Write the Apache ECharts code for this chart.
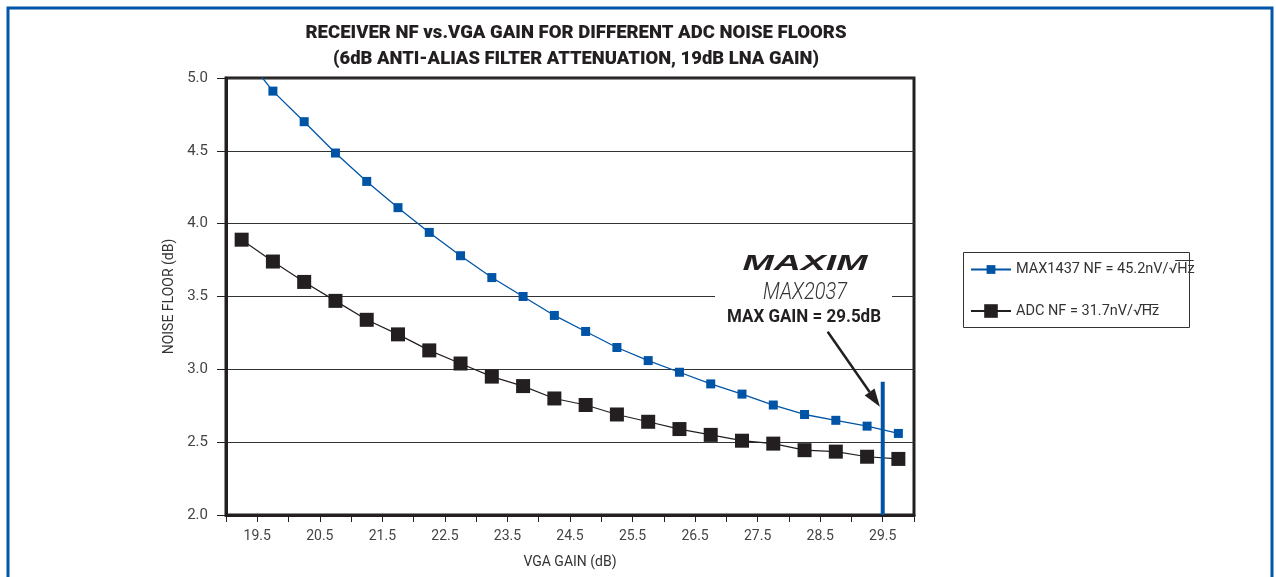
<!DOCTYPE html>
<html>
<head>
<meta charset="utf-8">
<script src="https://cdn.jsdelivr.net/npm/echarts@6/dist/echarts.min.js"></script>
<style>
  html, body { margin: 0; padding: 0; background: #fff; }
  #chart { width: 1276px; height: 577px; }
</style>
</head>
<body>
<div id="chart"></div>
<script>
// VGA gain sweep (dB) for each curve
const gainMax1437 = [19.25, 19.75, 20.25, 20.75, 21.25, 21.75, 22.25, 22.75, 23.25, 23.75, 24.25,
                     24.75, 25.25, 25.75, 26.25, 26.75, 27.25, 27.75, 28.25, 28.75, 29.25, 29.75];
const nfMax1437   = [5.18, 4.91, 4.70, 4.485, 4.29, 4.11, 3.94, 3.78, 3.63, 3.50, 3.37,
                     3.26, 3.15, 3.06, 2.98, 2.90, 2.83, 2.755, 2.69, 2.65, 2.61, 2.56];
const gainAdc     = [19.25, 19.75, 20.25, 20.75, 21.25, 21.75, 22.25, 22.75, 23.25, 23.75, 24.25,
                     24.75, 25.25, 25.75, 26.25, 26.75, 27.25, 27.75, 28.25, 28.75, 29.25, 29.75];
const nfAdc       = [3.89, 3.74, 3.60, 3.47, 3.34, 3.24, 3.13, 3.04, 2.95, 2.885, 2.80,
                     2.755, 2.69, 2.64, 2.59, 2.55, 2.51, 2.49, 2.445, 2.435, 2.40, 2.385];
// MAX2037 maximum gain marker (gain, NF span)
const maxGainX    = [29.5, 29.5];
const maxGainY    = [2.0, 2.915];
// Arrow from the annotation text down to the max-gain marker (data coords)
const arrowFrom   = [28.62, 3.258];
const arrowTo     = [29.455, 2.743];

const seriesNames = ['MAX1437 NF = 45.2nV/\u221AHz', 'ADC NF = 31.7nV/\u221AHz'];
const titleLines  = ['RECEIVER NF vs.VGA GAIN FOR DIFFERENT ADC NOISE FLOORS',
                     '(6dB ANTI-ALIAS FILTER ATTENUATION, 19dB LNA GAIN)'];

const BLUE = '#0054a6';
const INK = '#231f20';
const FONT = 'Roboto, "Liberation Sans", sans-serif';

const zip = (xs, ys) => xs.map((x, i) => [x, ys[i]]);

// horizontal scale needed so a string fits a given width
const ctx = document.createElement('canvas').getContext('2d');
function fitScale(text, font, width) {
  ctx.font = font;
  return width / ctx.measureText(text).width;
}
function textWidth(text, font) {
  ctx.font = font;
  return ctx.measureText(text).width;
}

const chart = echarts.init(document.getElementById('chart'), null, { renderer: 'canvas' });

const titleFont = '900 18px ' + FONT;
const logoFont = 'italic 900 22px "Liberation Sans", Arial, sans-serif';
const partFont = 'italic 300 23px ' + FONT;
const gainFont = 'bold 19px ' + FONT;
const legendFontSize = 14.5;
const legendFont = legendFontSize + 'px ' + FONT;

const legendLeft = 970, legendIconW = 40;
const legendRows = [268, 312];

function overline(name, rowY) {
  const prefix = name.slice(0, name.length - 2);
  const x0 = legendLeft + legendIconW + 5 + textWidth(prefix, legendFont);
  const w = textWidth('Hz', legendFont);
  return {
    type: 'line', z: 20, silent: true,
    shape: { x1: x0 - 1, y1: rowY - 7.5, x2: x0 + w, y2: rowY - 7.5 },
    style: { stroke: '#333', lineWidth: 1 }
  };
}

const option = {
  animation: false,
  backgroundColor: '#fff',
  grid: {
    left: 226, top: 78, right: 362, bottom: 62,
    show: true, borderColor: INK, borderWidth: 3, backgroundColor: 'transparent'
  },
  xAxis: {
    type: 'value', min: 19, max: 30, interval: 0.5,
    name: 'VGA GAIN (dB)', nameLocation: 'middle', nameGap: 40,
    nameTextStyle: { fontFamily: FONT, fontSize: 14, color: '#333' },
    axisLine: { show: true, lineStyle: { color: INK, width: 3 } },
    axisTick: { show: true, length: 7, lineStyle: { color: INK, width: 1 } },
    axisLabel: {
      margin: 14, fontFamily: FONT, fontSize: 14, color: '#444',
      formatter: v => (Math.abs(v % 1 - 0.5) < 1e-6 ? v.toFixed(1) : '')
    },
    splitLine: { show: false }
  },
  yAxis: {
    type: 'value', min: 2, max: 5, interval: 0.5,
    name: 'NOISE FLOOR (dB)', nameLocation: 'middle', nameGap: 41,
    nameTextStyle: { fontFamily: FONT, fontSize: 14, color: '#333' },
    axisLine: { show: true, lineStyle: { color: INK, width: 3 } },
    axisTick: { show: true, length: 9, lineStyle: { color: INK, width: 1 } },
    axisLabel: { margin: 18, fontFamily: FONT, fontSize: 15, color: '#444', formatter: v => v.toFixed(1) },
    splitLine: { show: true, lineStyle: { color: '#333', width: 1 } }
  },
  legend: [
    {
      data: [seriesNames[0]], left: legendLeft, top: legendRows[0] - 6,
      itemWidth: legendIconW, itemHeight: 11, padding: 0,
      textStyle: { fontFamily: FONT, fontSize: legendFontSize, color: '#333' }
    },
    {
      data: [seriesNames[1]], left: legendLeft, top: legendRows[1] - 8.5,
      itemWidth: legendIconW, itemHeight: 17, padding: 0,
      textStyle: { fontFamily: FONT, fontSize: legendFontSize, color: '#333' }
    }
  ],
  series: [
    {
      name: seriesNames[0], type: 'line', data: zip(gainMax1437, nfMax1437),
      symbol: 'rect', symbolSize: 9, clip: true, z: 4,
      itemStyle: { color: BLUE },
      lineStyle: { color: BLUE, width: 1.3 }
    },
    {
      name: seriesNames[1], type: 'line', data: zip(gainAdc, nfAdc),
      symbol: 'rect', symbolSize: 14, clip: true, z: 3,
      itemStyle: { color: INK },
      lineStyle: { color: INK, width: 1.2 }
    },
    {
      name: 'max gain', type: 'line', data: zip(maxGainX, maxGainY),
      symbol: 'none', silent: true, z: 5,
      lineStyle: { color: BLUE, width: 4 }
    }
  ],
  graphic: []
};

chart.setOption(option);

// arrow endpoints in pixels
const p0 = chart.convertToPixel({ gridIndex: 0 }, arrowFrom);
const p1 = chart.convertToPixel({ gridIndex: 0 }, arrowTo);
const ang = Math.atan2(p1[1] - p0[1], p1[0] - p0[0]);
const headLen = 18, headHalf = 6;
const bx = p1[0] - headLen * Math.cos(ang), by = p1[1] - headLen * Math.sin(ang);
const nx = -Math.sin(ang), ny = Math.cos(ang);

const graphics = [
  // outer frame
  { type: 'rect', z: 0, silent: true, shape: { x: 8, y: 8, width: 1264, height: 640 },
    style: { fill: 'none', stroke: '#0057a8', lineWidth: 3 } },
  // title
  { type: 'text', x: 576, y: 33, z: 10, scaleX: fitScale(titleLines[0], titleFont, 541),
    style: { text: titleLines[0], font: titleFont, fill: INK, textAlign: 'center', textVerticalAlign: 'middle' } },
  { type: 'text', x: 576, y: 59, z: 10, scaleX: fitScale(titleLines[1], titleFont, 486),
    style: { text: titleLines[1], font: titleFont, fill: INK, textAlign: 'center', textVerticalAlign: 'middle' } },
  // annotation backdrop
  { type: 'rect', z: 1, silent: true, shape: { x: 715, y: 244, width: 177, height: 88 },
    style: { fill: '#fff' } },
  { type: 'text', x: 805, y: 264, z: 10, scaleX: fitScale('MAXIM', logoFont, 125),
    style: { text: 'MAXIM', font: logoFont, fill: INK, textAlign: 'center', textVerticalAlign: 'middle' } },
  { type: 'text', x: 805, y: 293, z: 10, scaleX: fitScale('MAX2037', partFont, 84),
    style: { text: 'MAX2037', font: partFont, fill: '#333', textAlign: 'center', textVerticalAlign: 'middle' } },
  { type: 'text', x: 804, y: 317, z: 10, scaleX: fitScale('MAX GAIN = 29.5dB', gainFont, 154),
    style: { text: 'MAX GAIN = 29.5dB', font: gainFont, fill: INK, textAlign: 'center', textVerticalAlign: 'middle' } },
  // arrow
  { type: 'line', z: 10, silent: true, shape: { x1: p0[0], y1: p0[1], x2: bx, y2: by },
    style: { stroke: INK, lineWidth: 2.5 } },
  { type: 'polygon', z: 10, silent: true,
    shape: { points: [[p1[0], p1[1]], [bx + nx * headHalf, by + ny * headHalf], [bx - nx * headHalf, by - ny * headHalf]] },
    style: { fill: INK } },
  // legend box
  { type: 'rect', z: 1, silent: true, shape: { x: 963.5, y: 252.5, width: 226, height: 75 },
    style: { fill: 'none', stroke: '#333', lineWidth: 1 } },
  overline(seriesNames[0], legendRows[0]),
  overline(seriesNames[1], legendRows[1])
];

chart.setOption({ graphic: graphics });
</script>
</body>
</html>
